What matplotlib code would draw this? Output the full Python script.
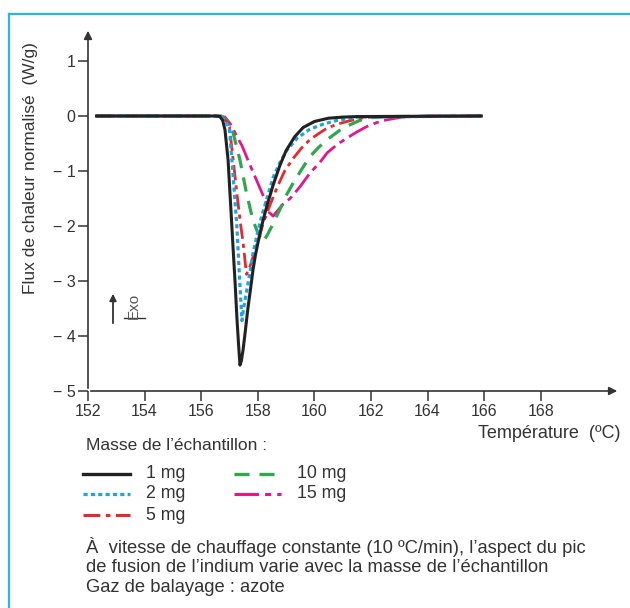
import matplotlib
matplotlib.use('Agg')

import matplotlib.pyplot as plt
from matplotlib.lines import Line2D

plt.rcParams['font.family'] = ['Liberation Sans', 'DejaVu Sans']

# Courbes (température en °C, flux en W/g)
t_1mg = [152.3, 156.0, 156.5, 156.66, 156.76, 156.84, 156.95, 157.05, 157.13, 157.2,
         157.26, 157.32, 157.37, 157.42, 157.48, 157.55, 157.65, 157.75, 157.83, 157.92,
         158.0, 158.15, 158.33, 158.54, 158.78, 159.0, 159.3, 159.6, 160.0, 160.5,
         161.0, 161.5, 165.9]
v_1mg = [0, 0, 0, -0.01, -0.08, -0.25, -0.8, -1.7, -2.43, -3.05,
         -3.65, -4.15, -4.53, -4.45, -4.25, -3.95, -3.5, -3.12, -2.8, -2.52,
         -2.32, -1.97, -1.62, -1.26, -0.9, -0.63, -0.38, -0.21, -0.1, -0.04,
         -0.02, -0.01, 0]

t_2mg = [152.3, 156.0, 156.55, 156.75, 156.88, 157.0, 157.13, 157.26, 157.35, 157.44,
         157.5, 157.6, 157.72, 157.83, 158.0, 158.15, 158.35, 158.54, 158.78, 159.03,
         159.4, 159.84, 160.3, 160.8, 161.5, 165.9]
v_2mg = [0, 0, 0, -0.03, -0.1, -0.25, -1.1, -2.0, -2.9, -3.72,
         -3.5, -3.2, -2.85, -2.5, -2.1, -1.8, -1.45, -1.12, -0.85, -0.62,
         -0.4, -0.24, -0.15, -0.08, -0.02, 0]

t_5mg = [152.3, 156.0, 156.6, 156.8, 156.9, 157.0, 157.13, 157.3, 157.4, 157.48,
         157.6, 157.75, 157.9, 158.05, 158.19, 158.43, 158.68, 158.95, 159.25, 159.55,
         159.84, 160.15, 160.45, 160.8, 161.15, 161.6, 162.2, 165.9]
v_5mg = [0, 0, 0, -0.04, -0.1, -0.2, -0.8, -1.58, -2.0, -2.3,
         -2.88, -2.7, -2.45, -2.2, -1.95, -1.62, -1.3, -1.0, -0.77, -0.58,
         -0.43, -0.32, -0.22, -0.15, -0.1, -0.04, -0.01, 0]

t_10mg = [152.3, 156.0, 156.7, 156.9, 157.13, 157.37, 157.6, 157.83, 158.0, 158.19,
          158.35, 158.5, 158.78, 159.03, 159.25, 159.55, 159.84, 160.15, 160.45, 161.0,
          161.6, 162.0, 162.8, 165.9]
v_10mg = [0, 0, 0, -0.07, -0.31, -0.8, -1.4, -1.9, -2.12, -2.29,
          -2.15, -2.0, -1.7, -1.42, -1.22, -0.97, -0.74, -0.57, -0.43, -0.22,
          -0.08, -0.03, -0.01, 0]

t_15mg = [152.3, 156.0, 156.65, 156.84, 157.0, 157.2, 157.45, 157.65, 158.0, 158.25,
          158.4, 158.54, 158.7, 158.9, 159.14, 159.5, 159.84, 160.2, 160.45, 160.8,
          161.15, 161.5, 161.86, 162.2, 162.55, 163.1, 164.0, 165.9]
v_15mg = [0, 0, 0, -0.02, -0.12, -0.31, -0.55, -0.8, -1.22, -1.52,
          -1.75, -1.82, -1.72, -1.6, -1.5, -1.28, -1.04, -0.84, -0.67, -0.52,
          -0.4, -0.29, -0.19, -0.12, -0.07, -0.02, 0, 0]

x_ticks = [152, 154, 156, 158, 160, 162, 164, 166, 168]
y_ticks = [1, 0, -1, -2, -3, -4, -5]
y_labels = ['1', '0', '\u2212 1', '\u2212 2', '\u2212 3', '\u2212 4', '\u2212 5']

TXT = '#333333'
W, H = 630, 608

fig = plt.figure(figsize=(W / 100, H / 100), dpi=100)

def fx(px):
    return px / W

def fy(py):
    return 1 - py / H

# cadre bleu (haut + gauche)
fig.add_artist(Line2D([fx(9), 1.0], [fy(14), fy(14)], color='#29b5e8', lw=1.6))
fig.add_artist(Line2D([fx(9), fx(9)], [fy(14), 0.0], color='#29b5e8', lw=1.6))

ax = fig.add_axes([fx(88), fy(391), fx(620) - fx(88), fy(28) - fy(391)])
ax.set_xlim(152, 170.8)
ax.set_ylim(-5, 1.6)
for s in ax.spines.values():
    s.set_visible(False)

ax.plot(t_15mg, v_15mg, color='#e4168a', lw=2.0, dashes=(8, 2, 2, 2))
ax.plot(t_10mg, v_10mg, color='#2ea74f', lw=2.3, dashes=(4.5, 3))
ax.plot(t_5mg, v_5mg, color='#e8292b', lw=2.0, dashes=(5.5, 1.8, 1.5, 1.8))
ax.plot(t_2mg, v_2mg, color='#1ea5e0', lw=2.3, dashes=(1.3, 1.0))
ax.plot(t_1mg, v_1mg, color='#222222', lw=2.2)

# axes avec flèches
ax.annotate('', xy=(0, 1), xytext=(0, 0), xycoords='axes fraction',
            arrowprops=dict(arrowstyle='-|>', color=TXT, lw=1.2, mutation_scale=12))
ax.annotate('', xy=(1, 0), xytext=(0, 0), xycoords='axes fraction',
            arrowprops=dict(arrowstyle='-|>', color=TXT, lw=1.2, mutation_scale=12))

ax.set_xticks(x_ticks)
ax.set_xticklabels([str(v) for v in x_ticks])
ax.set_yticks(y_ticks)
ax.set_yticklabels(y_labels)
ax.tick_params(direction='out', length=7, width=1.1, color=TXT, labelcolor=TXT,
               labelsize=11.5, pad=2)

fig.text(fx(31), fy(168), 'Flux de chaleur normalisé  (W/g)', rotation=90,
         ha='center', va='center', fontsize=12.5, color=TXT)
fig.text(fx(621), fy(433), 'Température  (ºC)', ha='right', va='center',
         fontsize=13, color=TXT)

# flèche Exo
ax.annotate('', xy=(fx(113), fy(291)), xytext=(fx(113), fy(326)),
            xycoords='figure fraction',
            arrowprops=dict(arrowstyle='-|>', color=TXT, lw=1.3, mutation_scale=10))
fig.text(fx(134), fy(306), 'Exo', rotation=90, ha='center', va='center',
         fontsize=11, color='#555555')
fig.add_artist(Line2D([fx(124), fx(145)], [fy(318), fy(318)], color=TXT, lw=1.0))

# légende
fig.text(fx(86), fy(446), 'Masse de l\u2019échantillon :', ha='left', va='center',
         fontsize=12.5, color=TXT)
legend_items = [
    (83, 474, '1 mg', '#222222', None, 2.4),
    (83, 494, '2 mg', '#1ea5e0', (1.3, 1.0), 2.3),
    (83, 515, '5 mg', '#e8292b', (5.5, 1.8, 1.5, 1.8), 2.2),
    (234, 474, '10 mg', '#2ea74f', (4.5, 3), 2.4),
    (234, 494, '15 mg', '#e4168a', (8, 2, 2, 2), 2.2),
]
for x0, y0, lab, col, dash, lw in legend_items:
    ln = Line2D([fx(x0), fx(x0 + 47)], [fy(y0), fy(y0)], color=col, lw=lw)
    if dash is not None:
        ln.set_dashes(dash)
    fig.add_artist(ln)
    fig.text(fx(x0 + 63), fy(y0), lab, ha='left', va='center', fontsize=12.8, color=TXT)

caption = ['À  vitesse de chauffage constante (10 ºC/min), l\u2019aspect du pic',
           'de fusion de l\u2019indium varie avec la masse de l\u2019échantillon',
           'Gaz de balayage : azote']
for i, line in enumerate(caption):
    fig.text(fx(86), fy(547 + 20 * i), line, ha='left', va='center',
             fontsize=13.2, color=TXT)

fig.savefig('out.png', dpi=100)
plt.close(fig)
